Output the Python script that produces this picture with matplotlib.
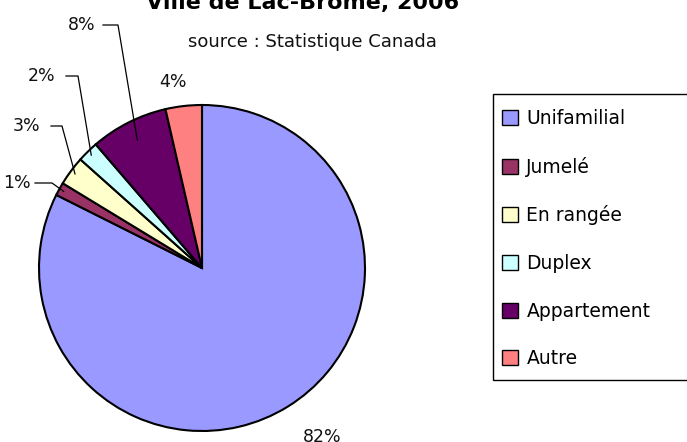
import matplotlib
matplotlib.use("Agg")
import matplotlib.pyplot as plt
import numpy as np
from matplotlib.patches import Rectangle

categories = ["Unifamilial", "Jumelé", "En rangée", "Duplex", "Appartement", "Autre"]
values = [82.4, 1.3, 2.9, 2.1, 7.7, 3.6]
colors = ["#9999FF", "#993366", "#FFFFCC", "#CCFFFF", "#660066", "#FF8080"]
title = "Ville de Lac-Brome, 2006"
subtitle = "source : Statistique Canada"

plt.rcParams['font.family'] = ['DejaVu Sans']

W, H = 687, 442
fig = plt.figure(figsize=(W / 100, H / 100), dpi=100)
ax = fig.add_axes([0, 0, 1, 1])

cx, cy, r = 202, H - 268, 163
wedges, _ = ax.pie(values, colors=colors, startangle=90, counterclock=False,
                   center=(cx, cy), radius=r, frame=True,
                   wedgeprops=dict(edgecolor='black', linewidth=1.5))
ax.set_xlim(0, W)
ax.set_ylim(0, H)
ax.set_aspect('equal')
ax.axis('off')

total = sum(values)
label_pos = {
    0: (322, 437, None),
    1: (17, 183, [(35, 183), (52, 183)]),
    2: (26, 126, [(51, 126), (62, 126)]),
    3: (42, 76, [(66, 76), (78, 76)]),
    4: (82, 25, [(103, 25), (118, 25)]),
    5: (173, 82, None),
}
for i, w in enumerate(wedges):
    pct = values[i] / total * 100
    txt = f"{pct:.0f}%"
    x, y, leader = label_pos[i]
    ax.text(x, H - y, txt, ha='center', va='center', fontsize=12.5, color='#111111')
    if leader is not None:
        mid = np.deg2rad((w.theta1 + w.theta2) / 2)
        rr = r * (0.88 if i == 4 else 0.97)
        ex, ey = cx + rr * np.cos(mid), cy + rr * np.sin(mid)
        pts = [(px, H - py) for px, py in leader] + [(ex, ey)]
        ax.plot([p[0] for p in pts], [p[1] for p in pts], color='black', lw=0.9)

fig.text(303 / W, 1 - 3 / H, title, ha='center', va='center', fontsize=16,
         fontweight='bold')
fig.text(312 / W, 1 - 42 / H, subtitle, ha='center', va='center', fontsize=13,
         color='#111111')

# legend frame extending past the right edge, like the reference
frame = Rectangle((493, H - 380), 230, 286, facecolor='white', edgecolor='black',
                  linewidth=1.0, clip_on=False, zorder=1)
ax.add_patch(frame)

leg = fig.legend(wedges, categories, loc='upper left',
                 bbox_to_anchor=(502 / W, 1 - 109 / H), frameon=False,
                 fontsize=13.5, labelspacing=1.53, handlelength=0.85,
                 handleheight=0.85, handletextpad=0.45, borderpad=0,
                 borderaxespad=0)
for h in leg.legend_handles:
    h.set_edgecolor('black')
    h.set_linewidth(1.0)

fig.savefig("out.png", dpi=100)
